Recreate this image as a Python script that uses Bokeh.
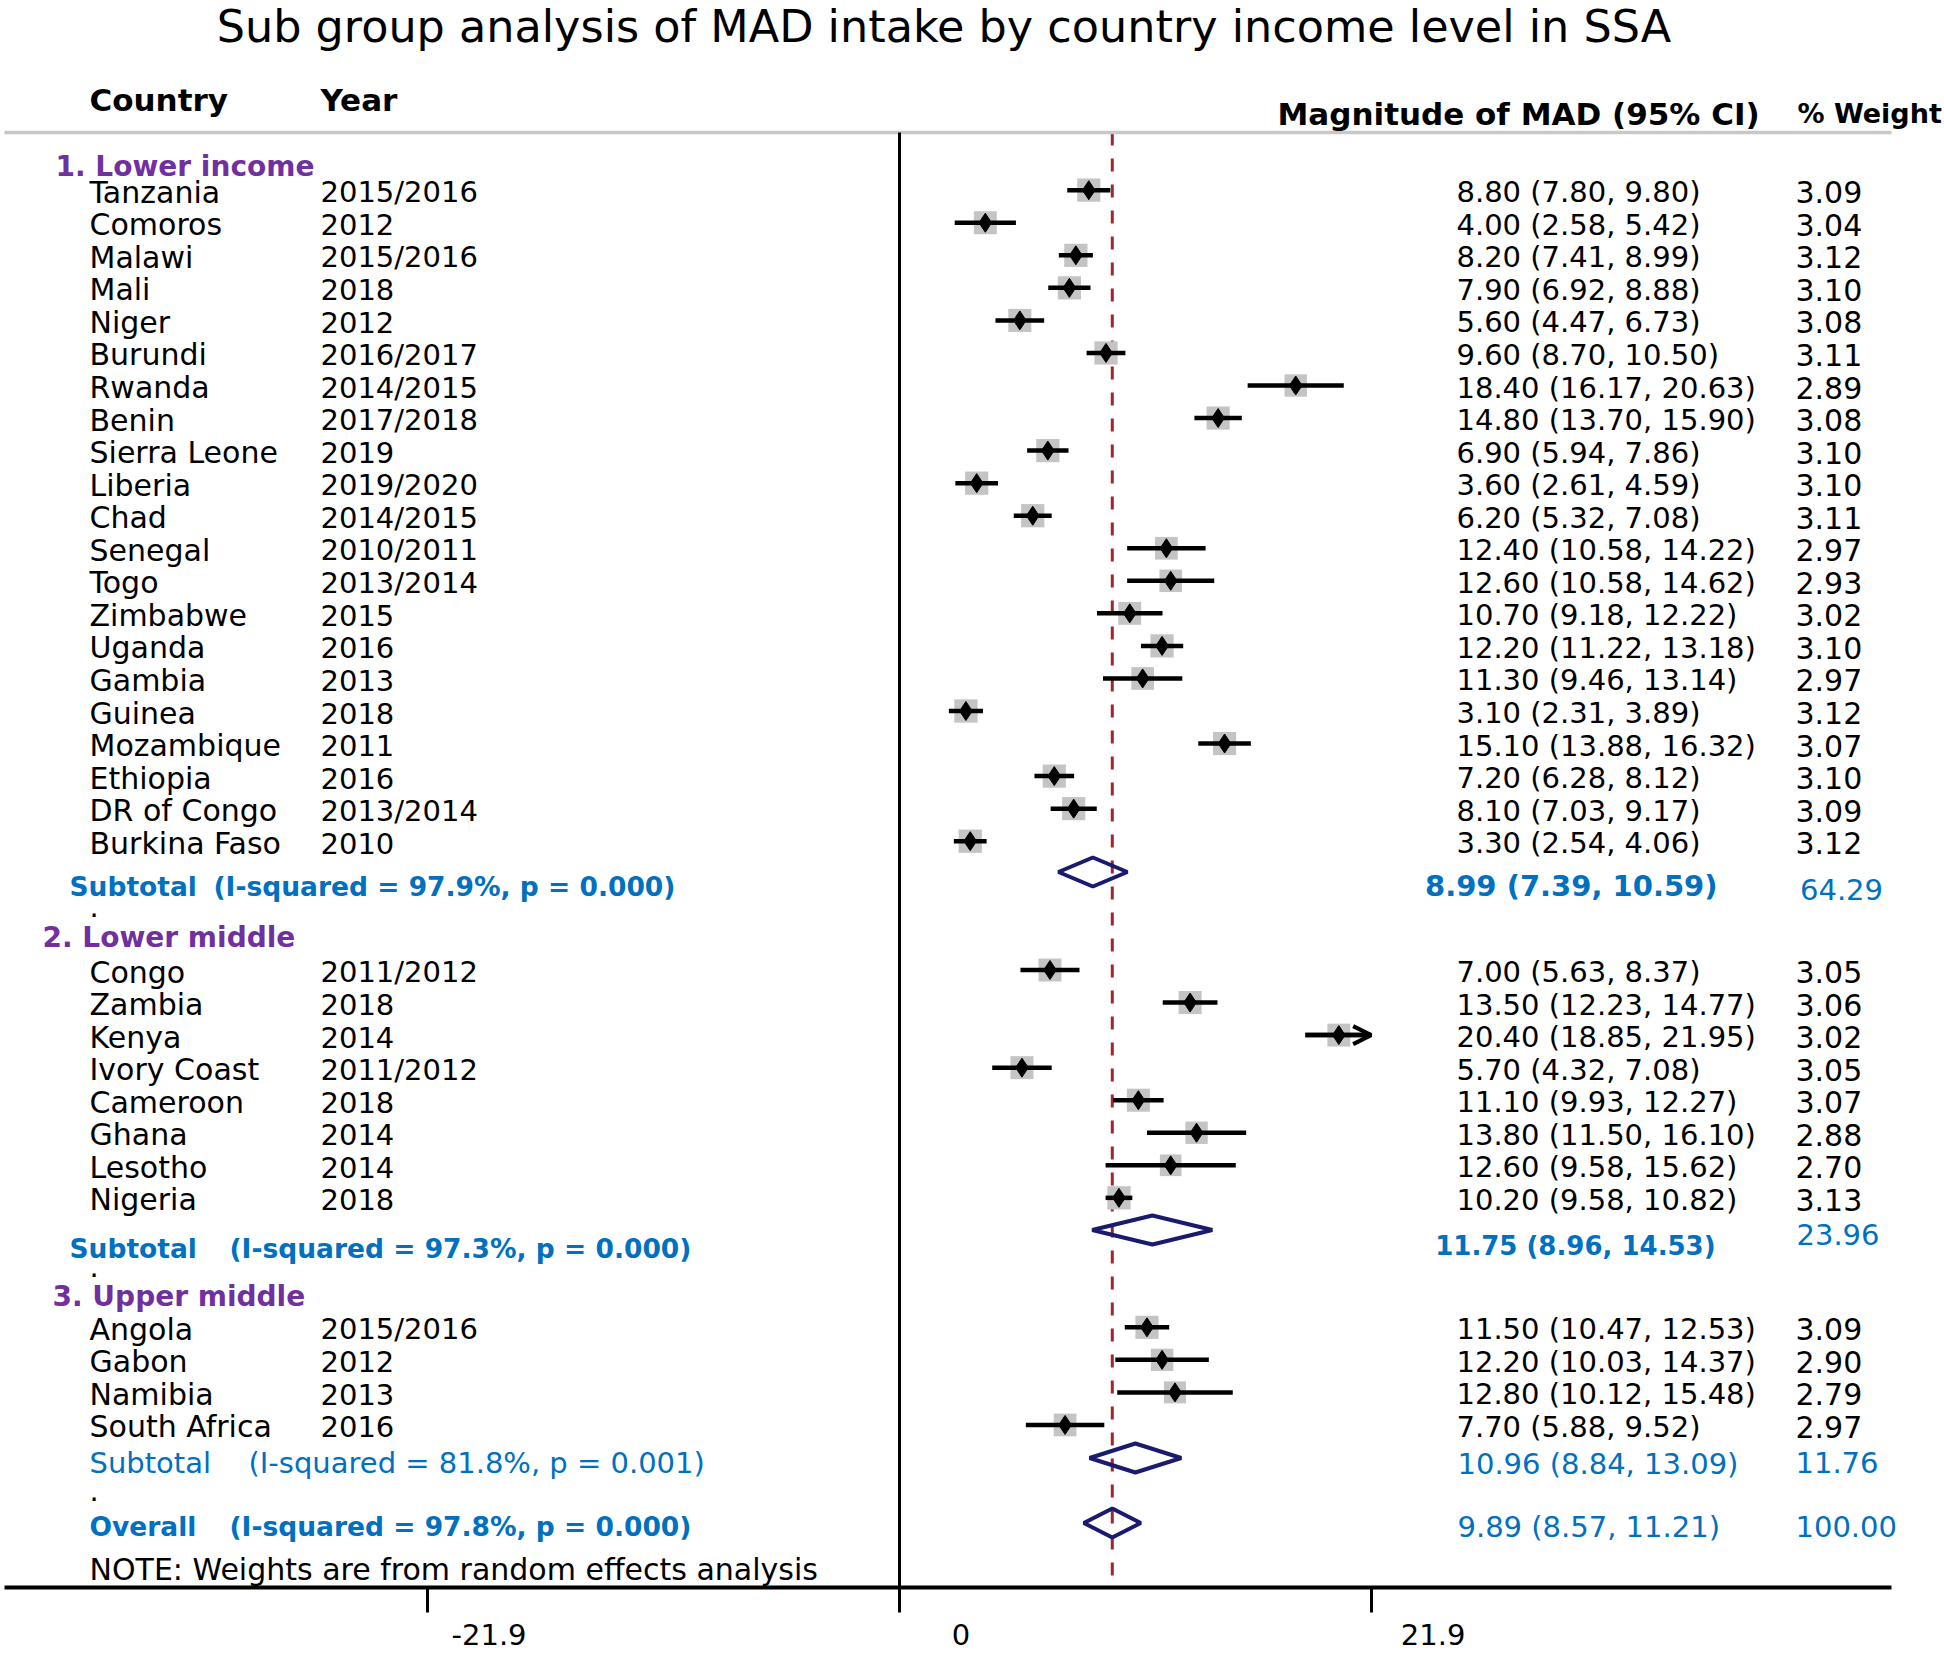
import math
from bokeh.plotting import figure
from bokeh.models import (ColumnDataSource, Range1d, LinearAxis, FixedTicker,
                          Label, Arrow, OpenHead)
from bokeh.core.properties import value
from bokeh.embed import file_html
from bokeh.resources import INLINE

# ---------------- data ----------------
title_text = "Sub group analysis of MAD intake by country income level in SSA"
col_headers = ["Country", "Year", "Magnitude of MAD (95% CI)", "% Weight"]
note_text = "NOTE: Weights are from random effects analysis"

group_names = ["1. Lower income", "2. Lower middle", "3. Upper middle"]

countries_low = ["Tanzania", "Comoros", "Malawi", "Mali", "Niger", "Burundi", "Rwanda",
                 "Benin", "Sierra Leone", "Liberia", "Chad", "Senegal", "Togo", "Zimbabwe",
                 "Uganda", "Gambia", "Guinea", "Mozambique", "Ethiopia", "DR of Congo",
                 "Burkina Faso"]
years_low = ["2015/2016", "2012", "2015/2016", "2018", "2012", "2016/2017", "2014/2015",
             "2017/2018", "2019", "2019/2020", "2014/2015", "2010/2011", "2013/2014", "2015",
             "2016", "2013", "2018", "2011", "2016", "2013/2014", "2010"]
est_low = [8.80, 4.00, 8.20, 7.90, 5.60, 9.60, 18.40, 14.80, 6.90, 3.60, 6.20, 12.40, 12.60,
           10.70, 12.20, 11.30, 3.10, 15.10, 7.20, 8.10, 3.30]
lo_low = [7.80, 2.58, 7.41, 6.92, 4.47, 8.70, 16.17, 13.70, 5.94, 2.61, 5.32, 10.58, 10.58,
          9.18, 11.22, 9.46, 2.31, 13.88, 6.28, 7.03, 2.54]
hi_low = [9.80, 5.42, 8.99, 8.88, 6.73, 10.50, 20.63, 15.90, 7.86, 4.59, 7.08, 14.22, 14.62,
          12.22, 13.18, 13.14, 3.89, 16.32, 8.12, 9.17, 4.06]
w_low = [3.09, 3.04, 3.12, 3.10, 3.08, 3.11, 2.89, 3.08, 3.10, 3.10, 3.11, 2.97, 2.93, 3.02,
         3.10, 2.97, 3.12, 3.07, 3.10, 3.09, 3.12]

countries_lmid = ["Congo", "Zambia", "Kenya", "Ivory Coast", "Cameroon", "Ghana", "Lesotho",
                  "Nigeria"]
years_lmid = ["2011/2012", "2018", "2014", "2011/2012", "2018", "2014", "2014", "2018"]
est_lmid = [7.00, 13.50, 20.40, 5.70, 11.10, 13.80, 12.60, 10.20]
lo_lmid = [5.63, 12.23, 18.85, 4.32, 9.93, 11.50, 9.58, 9.58]
hi_lmid = [8.37, 14.77, 21.95, 7.08, 12.27, 16.10, 15.62, 10.82]
w_lmid = [3.05, 3.06, 3.02, 3.05, 3.07, 2.88, 2.70, 3.13]

countries_umid = ["Angola", "Gabon", "Namibia", "South Africa"]
years_umid = ["2015/2016", "2012", "2013", "2016"]
est_umid = [11.50, 12.20, 12.80, 7.70]
lo_umid = [10.47, 10.03, 10.12, 5.88]
hi_umid = [12.53, 14.37, 15.48, 9.52]
w_umid = [3.09, 2.90, 2.79, 2.97]

sub_est = [8.99, 11.75, 10.96]
sub_lo = [7.39, 8.96, 8.84]
sub_hi = [10.59, 14.53, 13.09]
sub_weight = [64.29, 23.96, 11.76]
sub_i2 = [97.9, 97.3, 81.8]
sub_p = ["0.000", "0.000", "0.001"]

overall_est, overall_lo, overall_hi = 9.89, 8.57, 11.21
overall_weight = 100.00
overall_i2, overall_p = 97.8, "0.000"

tick_vals = [-21.9, 0, 21.9]
tick_labels = ["-21.9", "0", "21.9"]

# ---------------- layout (reference pixel coordinates) ----------------
FONT = "DejaVu Sans"
W, H = 1944, 1658
AX_L, AX_R, AX_T, AX_B = 4, 1891, 132, 1587   # extent of the rules / axis lines
X0PX, PXU = 898.6, 21.555                      # pixel of value 0, pixels per unit


def px2x(px):
    return (px - X0PX) / PXU


BLACK = "#000000"
PURPLE = "#7030a0"
BLUE = "#0070c0"
NAVY = "#1a1a6e"
DRED = "#a0262e"
BOXGRAY = "#c4c4c4"

p = figure(width=W, height=H, output_backend="svg", toolbar_location=None,
           x_range=Range1d(px2x(0), px2x(W)), y_range=Range1d(H, 0),
           x_axis_type=None, y_axis_type=None,
           min_border_left=0, min_border_right=0, min_border_top=0, min_border_bottom=0)
p.outline_line_color = None
p.background_fill_color = "white"
p.border_fill_color = "white"

xbounds = (px2x(AX_L), px2x(AX_R))

# gray header rule
top_axis = LinearAxis(ticker=FixedTicker(ticks=[]), fixed_location=AX_T, bounds=xbounds,
                      axis_line_color="#c8c8c8", axis_line_width=3.5,
                      major_tick_line_color=None, minor_tick_line_color=None,
                      major_label_text_font_size="0px", major_label_text_color=None)
p.add_layout(top_axis, "above")

# bottom axis: line and tick marks
ax_ticks = LinearAxis(ticker=FixedTicker(ticks=tick_vals), fixed_location=AX_B,
                      bounds=xbounds, axis_line_width=4, axis_line_color=BLACK,
                      major_tick_line_width=3, major_tick_line_color=BLACK,
                      major_tick_out=25, major_tick_in=0, minor_tick_line_color=None,
                      major_label_text_font_size="0px", major_label_text_color=None,
                      major_label_standoff=0)
p.add_layout(ax_ticks, "below")

# bottom axis: tick labels (set to the right of the ticks as in the reference)
LAB_SHIFT = 62 / PXU
p.extra_x_ranges = {"lab": Range1d(px2x(0) - LAB_SHIFT, px2x(W) - LAB_SHIFT)}
ax_labels = LinearAxis(x_range_name="lab", ticker=FixedTicker(ticks=tick_vals),
                       fixed_location=AX_B, axis_line_color=None,
                       major_tick_line_color=None, major_tick_out=0, major_tick_in=0,
                       minor_tick_line_color=None, major_label_standoff=36,
                       major_label_text_font=FONT, major_label_text_font_size="29px",
                       major_label_text_color=BLACK,
                       major_label_overrides={v: t for v, t in zip(tick_vals, tick_labels)})
p.add_layout(ax_labels, "below")

# vertical line of no effect (x = 0)
zero_axis = LinearAxis(ticker=FixedTicker(ticks=[]), fixed_location=0,
                       bounds=(AX_T, AX_B), axis_line_color=BLACK, axis_line_width=3,
                       major_tick_line_color=None, minor_tick_line_color=None,
                       major_label_text_font_size="0px", major_label_text_color=None)
p.add_layout(zero_axis, "left")

# dashed line at the overall estimate
p.segment(x0=[overall_est], y0=[AX_T], x1=[overall_est], y1=[AX_B],
          line_color=DRED, line_width=3, line_dash="13 13")

# ---------------- study rows ----------------
groups = [
    (countries_low, years_low, est_low, lo_low, hi_low, w_low),
    (countries_lmid, years_lmid, est_lmid, lo_lmid, hi_lmid, w_lmid),
    (countries_umid, years_umid, est_umid, lo_umid, hi_umid, w_umid),
]
study_start = [191.7, 971.5, 1328.8]
STEP = 32.55

st = {k: [] for k in ["country", "year", "est", "lo", "hi", "w", "y"]}
for g, (c, yr, e, lo, hi, w) in enumerate(groups):
    for i in range(len(c)):
        st["country"].append(c[i]); st["year"].append(yr[i])
        st["est"].append(e[i]); st["lo"].append(lo[i]); st["hi"].append(hi[i])
        st["w"].append(w[i]); st["y"].append(study_start[g] + STEP * i)

XMIN, XMAX = tick_vals[0], tick_vals[-1]
n = len(st["est"])
mk_y = [y - 2 for y in st["y"]]
study_src = ColumnDataSource(dict(
    est=st["est"], y=mk_y,
    lo=[max(v, XMIN) for v in st["lo"]],
    hi=[min(v, XMAX) for v in st["hi"]],
    box=[23 * math.sqrt(w / 3.05) for w in st["w"]],
))
p.scatter("est", "y", source=study_src, marker="square", size="box",
          fill_color=BOXGRAY, line_color=None)
p.segment("lo", "y", "hi", "y", source=study_src, line_color=BLACK, line_width=4.5)

clip_idx = [i for i in range(n) if st["hi"][i] > XMAX]
if clip_idx:
    arrow_src = ColumnDataSource(dict(
        x0=[st["lo"][i] for i in clip_idx],
        x1=[XMAX for i in clip_idx],
        y=[mk_y[i] for i in clip_idx]))
    p.add_layout(Arrow(end=OpenHead(size=18, line_width=4, line_color=BLACK),
                       x_start="x0", y_start="y", x_end="x1", y_end="y",
                       source=arrow_src, line_width=4.5, line_color=BLACK))

p.scatter("est", "y", source=study_src, marker="diamond", size=19,
          fill_color=BLACK, line_color=BLACK)

# ---------------- pooled diamonds ----------------
dia_y = [871.5, 1229.5, 1457.5, 1522.5]
DH = 14.5
d_est = sub_est + [overall_est]
d_lo = sub_lo + [overall_lo]
d_hi = sub_hi + [overall_hi]
p.patches(xs=[[l, e, h, e] for l, e, h in zip(d_lo, d_est, d_hi)],
          ys=[[y, y - DH, y, y + DH] for y in dia_y],
          fill_alpha=0, line_color=NAVY, line_width=4)

# ---------------- texts ----------------
def add_text(items, bold):
    if not items:
        return
    src = ColumnDataSource(dict(
        x=[px2x(it[0]) for it in items], y=[it[1] for it in items],
        text=[it[2] for it in items], color=[it[3] for it in items],
        size=["%gpx" % it[4] for it in items]))
    p.text("x", "y", "text", source=src, text_color="color", text_font_size="size",
           text_font=value(FONT), text_font_style="bold" if bold else "normal",
           text_baseline="middle", text_align="left")


normal, bold = [], []
for i in range(n):
    y = st["y"][i]
    normal.append((89, y, st["country"][i], BLACK, 30))
    normal.append((320, y, st["year"][i], BLACK, 29))
    normal.append((1456, y, "%.2f (%.2f, %.2f)" % (st["est"][i], st["lo"][i], st["hi"][i]),
                   BLACK, 29))
    normal.append((1795, y, "%.2f" % st["w"][i], BLACK, 30))

for g, name in enumerate(group_names):
    bold.append(([55, 42, 52][g], [166, 937, 1296][g], name, PURPLE, 28))

sub_lab_y = [885.5, 1248, 1462]
sub_lab_x = [(69, 213), (69, 229), (89, 248)]
sub_bold = [True, True, False]
sub_ci_x = [1424.5, 1434.7, 1457]
sub_ci_y = [885, 1245, 1463]
sub_ci_size = [29, 26, 29]
sub_w_x = [1799.5, 1796, 1795]
sub_w_y = [889, 1234, 1462]
for g in range(3):
    tgt = bold if sub_bold[g] else normal
    sz = 26.5 if sub_bold[g] else 29
    tgt.append((sub_lab_x[g][0], sub_lab_y[g], "Subtotal", BLUE, sz))
    tgt.append((sub_lab_x[g][1], sub_lab_y[g],
                "(I-squared = %.1f%%, p = %s)" % (sub_i2[g], sub_p[g]), BLUE, sz))
    tgt.append((sub_ci_x[g], sub_ci_y[g],
                "%.2f (%.2f, %.2f)" % (sub_est[g], sub_lo[g], sub_hi[g]), BLUE, sub_ci_size[g]))
    normal.append((sub_w_x[g], sub_w_y[g], "%.2f" % sub_weight[g], BLUE, 29))

bold.append((89, 1526, "Overall", BLUE, 26.5))
bold.append((229, 1526, "(I-squared = %.1f%%, p = %s)" % (overall_i2, overall_p), BLUE, 26.5))
normal.append((1457, 1526, "%.2f (%.2f, %.2f)" % (overall_est, overall_lo, overall_hi),
               BLUE, 29))
normal.append((1795, 1526, "%.2f" % overall_weight, BLUE, 29))

add_text(normal, False)
add_text(bold, True)

# separator dots
dot_src = ColumnDataSource(dict(x=[px2x(89)] * 3, y=[906, 1266, 1490], text=["."] * 3))
p.text("x", "y", "text", source=dot_src, text_color=BLACK, text_font=value(FONT),
       text_font_size="29px", text_baseline="alphabetic")

# headers, title, note
hdr_pos = [(89, 99, 31), (320, 99, 31), (1277, 113, 31), (1797, 113, 27)]
for txt, (xp, yp, sz) in zip(col_headers, hdr_pos):
    p.add_layout(Label(x=px2x(xp), y=yp, text=txt, text_font=FONT, text_font_style="bold",
                       text_font_size="%dpx" % sz, text_baseline="middle",
                       text_align="left", text_color=BLACK))

p.add_layout(Label(x=px2x(943.5), y=0.5, text=title_text, text_font=FONT,
                   text_font_size="44.5px", text_baseline="top", text_align="center",
                   text_color=BLACK))
p.add_layout(Label(x=px2x(89), y=1569, text=note_text, text_font=FONT,
                   text_font_size="30px", text_baseline="middle", text_align="left",
                   text_color=BLACK))

open("out.html", "w").write(file_html(p, INLINE))
